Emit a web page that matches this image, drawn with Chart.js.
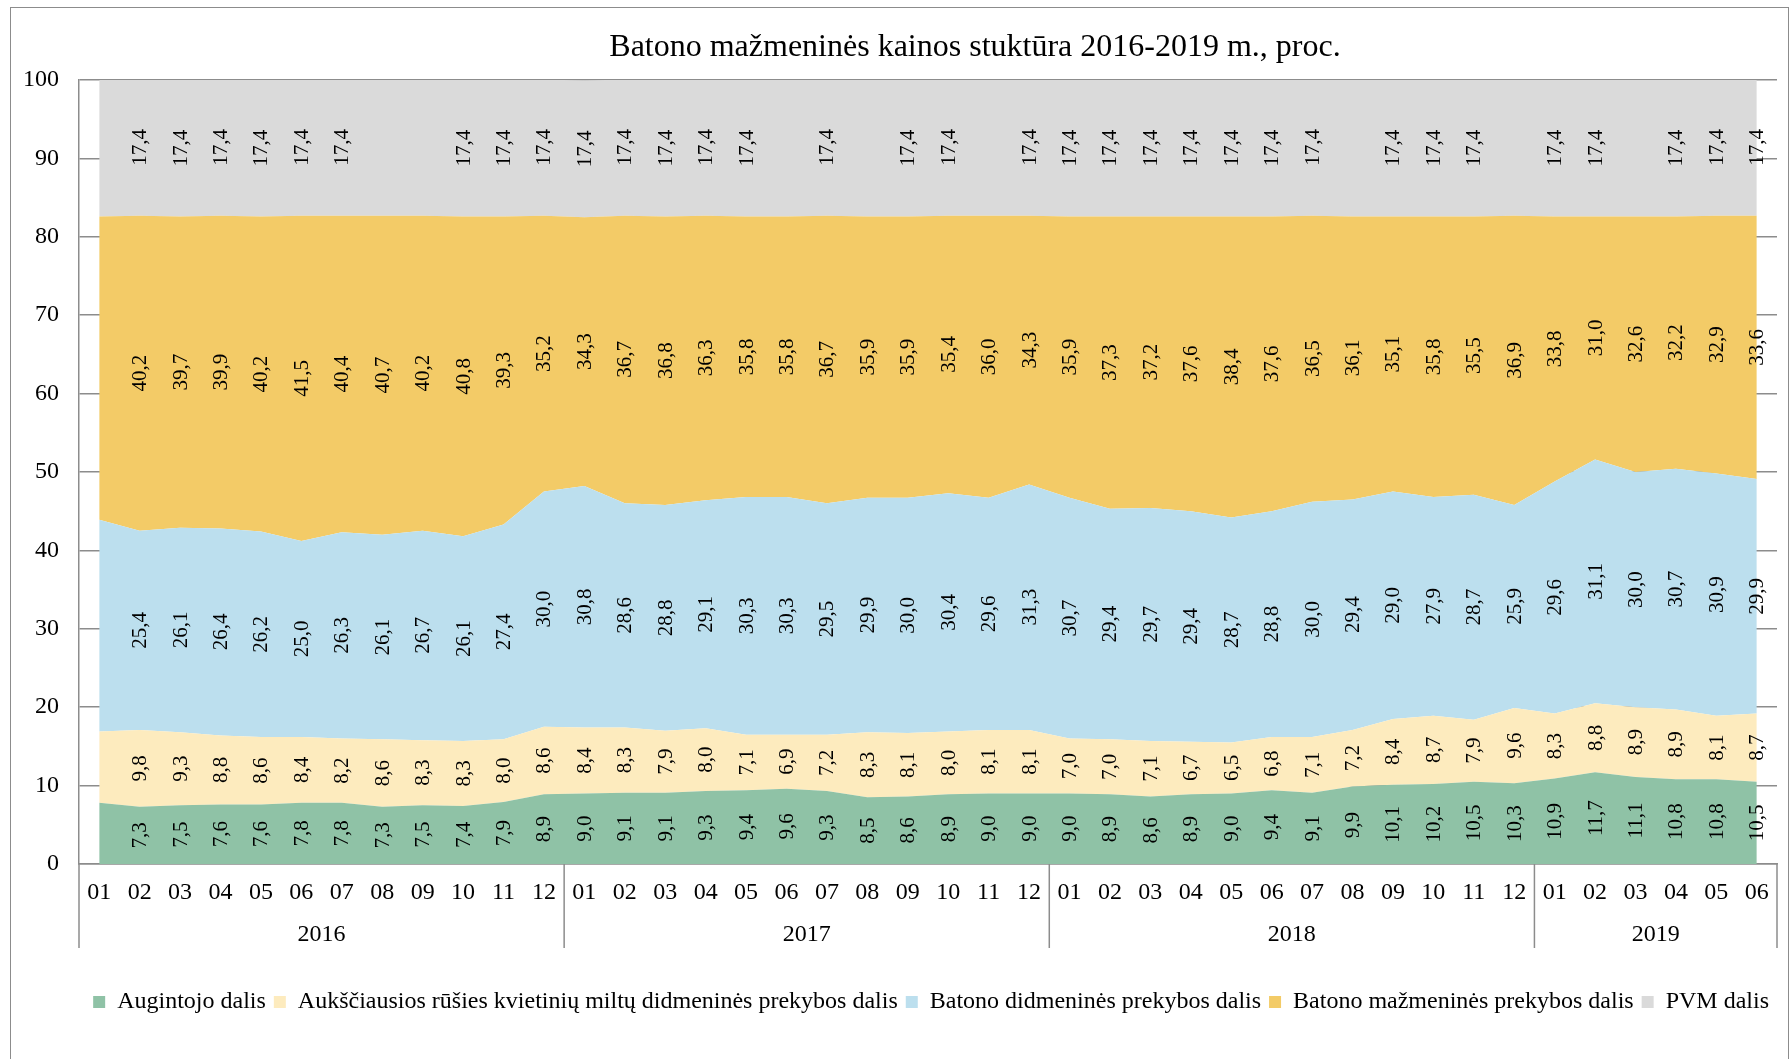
<!DOCTYPE html>
<html>
<head>
<meta charset="utf-8">
<script src="https://cdn.jsdelivr.net/npm/chart.js@4"></script>
<style>
  html, body { margin: 0; padding: 0; background: #fff; overflow: hidden; }
  #wrap { position: absolute; left: 0; top: 0; width: 1790px; height: 1059px; }
  #frame { position: absolute; left: 10px; top: 7px; width: 1779px; height: 1200px; box-sizing: border-box; border: 1.5px solid #8c8c8c; pointer-events: none; }
  #title { position: absolute; top: 27px; left: 975px; transform: translateX(-50%); white-space: nowrap;
           font: 32px "Liberation Serif", "Times New Roman", serif; color: #000; }
</style>
</head>
<body>
<div id="wrap"><canvas id="chart" width="1790" height="1059"></canvas></div>
<div id="frame"></div>
<div id="title">Batono mažmeninės kainos stuktūra 2016-2019 m., proc.</div>
<script>
const years = ['2016', '2017', '2018', '2019'];
const monthsInYear = [12, 12, 12, 6];
const monthNames = ['01', '02', '03', '04', '05', '06', '07', '08', '09', '10', '11', '12'];

const augintojo = [7.8, 7.3, 7.5, 7.6, 7.6, 7.8, 7.8, 7.3, 7.5, 7.4, 7.9, 8.9,
  9.0, 9.1, 9.1, 9.3, 9.4, 9.6, 9.3, 8.5, 8.6, 8.9, 9.0, 9.0,
  9.0, 8.9, 8.6, 8.9, 9.0, 9.4, 9.1, 9.9, 10.1, 10.2, 10.5, 10.3,
  10.9, 11.7, 11.1, 10.8, 10.8, 10.5];
const miltai = [9.1, 9.8, 9.3, 8.8, 8.6, 8.4, 8.2, 8.6, 8.3, 8.3, 8.0, 8.6,
  8.4, 8.3, 7.9, 8.0, 7.1, 6.9, 7.2, 8.3, 8.1, 8.0, 8.1, 8.1,
  7.0, 7.0, 7.1, 6.7, 6.5, 6.8, 7.1, 7.2, 8.4, 8.7, 7.9, 9.6,
  8.3, 8.8, 8.9, 8.9, 8.1, 8.7];
const didmenine = [27.0, 25.4, 26.1, 26.4, 26.2, 25.0, 26.3, 26.1, 26.7, 26.1, 27.4, 30.0,
  30.8, 28.6, 28.8, 29.1, 30.3, 30.3, 29.5, 29.9, 30.0, 30.4, 29.6, 31.3,
  30.7, 29.4, 29.7, 29.4, 28.7, 28.8, 30.0, 29.4, 29.0, 27.9, 28.7, 25.9,
  29.6, 31.1, 30.0, 30.7, 30.9, 29.9];
const mazmenine = [38.7, 40.2, 39.7, 39.9, 40.2, 41.5, 40.4, 40.7, 40.2, 40.8, 39.3, 35.2,
  34.3, 36.7, 36.8, 36.3, 35.8, 35.8, 36.7, 35.9, 35.9, 35.4, 36.0, 34.3,
  35.9, 37.3, 37.2, 37.6, 38.4, 37.6, 36.5, 36.1, 35.1, 35.8, 35.5, 36.9,
  33.8, 31.0, 32.6, 32.2, 32.9, 33.6];
const pvm = [17.4, 17.4, 17.4, 17.4, 17.4, 17.4, 17.4, 17.4, 17.4, 17.4, 17.4, 17.4,
  17.4, 17.4, 17.4, 17.4, 17.4, 17.4, 17.4, 17.4, 17.4, 17.4, 17.4, 17.4,
  17.4, 17.4, 17.4, 17.4, 17.4, 17.4, 17.4, 17.4, 17.4, 17.4, 17.4, 17.4,
  17.4, 17.4, 17.4, 17.4, 17.4, 17.4];

// months whose value labels are not shown in the original
const noLabels = [0];
const noPvmLabels = [0, 7, 8, 17, 19, 22, 31, 35, 38];

const axisGrey = '#8c8c8c';
const serif = '"Liberation Serif", "Times New Roman", serif';

const labels = [];
years.forEach((y, k) => monthNames.slice(0, monthsInYear[k]).forEach(m => labels.push(m)));

function fmt(v) { return v.toFixed(1).replace('.', ','); }

const valueLabels = {
  id: 'valueLabels',
  afterDatasetsDraw(chart) {
    const ctx = chart.ctx;
    const zero = chart.scales.y.getPixelForValue(0);
    ctx.save();
    ctx.font = '21px ' + serif;
    ctx.fillStyle = '#000';
    ctx.textAlign = 'center';
    ctx.textBaseline = 'middle';
    chart.data.datasets.forEach((ds, d) => {
      const meta = chart.getDatasetMeta(d);
      const below = d > 0 ? chart.getDatasetMeta(d - 1) : null;
      meta.data.forEach((pt, i) => {
        if (ds.hiddenLabels.includes(i)) return;
        const base = below ? below.data[i].y : zero;
        ctx.save();
        ctx.translate(pt.x, (pt.y + base) / 2);
        ctx.rotate(-Math.PI / 2);
        ctx.fillText(fmt(ds.data[i]), 0, 1);
        ctx.restore();
      });
    });
    ctx.restore();
  }
};

const yearGroups = {
  id: 'yearGroups',
  afterDraw(chart) {
    const x = chart.scales.x;
    const ctx = chart.ctx;
    const top = x.top, bottom = x.top + 84;
    const bounds = [x.left];
    let n = 0;
    monthsInYear.forEach((m, k) => {
      n += m;
      bounds.push(k === monthsInYear.length - 1 ? x.right : (x.getPixelForValue(n - 1) + x.getPixelForValue(n)) / 2);
    });
    ctx.save();
    ctx.strokeStyle = axisGrey;
    ctx.lineWidth = 1.5;
    bounds.forEach(b => { ctx.beginPath(); ctx.moveTo(b, top); ctx.lineTo(b, bottom); ctx.stroke(); });
    ctx.font = '24px ' + serif;
    ctx.fillStyle = '#000';
    ctx.textAlign = 'center';
    ctx.textBaseline = 'middle';
    years.forEach((y, k) => ctx.fillText(y, (bounds[k] + bounds[k + 1]) / 2, top + 71));
    ctx.restore();
  }
};

function area(label, data, color, hidden, fill) {
  return { label, data, backgroundColor: color, borderColor: color, borderWidth: 0,
           pointRadius: 0, pointHoverRadius: 0, tension: 0, fill, hiddenLabels: hidden };
}

new Chart(document.getElementById('chart'), {
  type: 'line',
  data: {
    labels,
    datasets: [
      area('Augintojo dalis', augintojo, '#8fc2a6', noLabels, 'origin'),
      area('Aukščiausios rūšies kvietinių miltų didmeninės prekybos dalis', miltai, '#fdebbe', noLabels, '-1'),
      area('Batono didmeninės prekybos dalis', didmenine, '#bcdfee', noLabels, '-1'),
      area('Batono mažmeninės prekybos dalis', mazmenine, '#f3cb67', noLabels, '-1'),
      area('PVM dalis', pvm, '#dadada', noPvmLabels, '-1')
    ]
  },
  options: {
    responsive: false,
    animation: false,
    events: [],
    layout: { padding: { left: 3, right: 13, top: 80, bottom: 35 } },
    plugins: {
      tooltip: { enabled: false },
      legend: {
        position: 'bottom',
        align: 'end',
        labels: { color: '#000', font: { family: serif, size: 24 }, boxWidth: 12, boxHeight: 12, padding: 8 }
      }
    },
    scales: {
      x: {
        offset: true,
        grid: { display: false, drawTicks: false },
        border: { display: true, color: axisGrey, width: 1.5 },
        ticks: { color: '#000', font: { family: serif, size: 24 }, padding: 14, maxRotation: 0, autoSkip: false },
        afterFit(scale) { scale.height = 118; }
      },
      y: {
        stacked: true,
        min: 0,
        max: 100,
        grid: { color: axisGrey, lineWidth: 1.5, drawTicks: false },
        border: { display: true, color: axisGrey, width: 1.5 },
        ticks: { stepSize: 10, color: '#000', font: { family: serif, size: 24 }, padding: 20 }
      }
    }
  },
  plugins: [valueLabels, yearGroups]
});
</script>
</body>
</html>
